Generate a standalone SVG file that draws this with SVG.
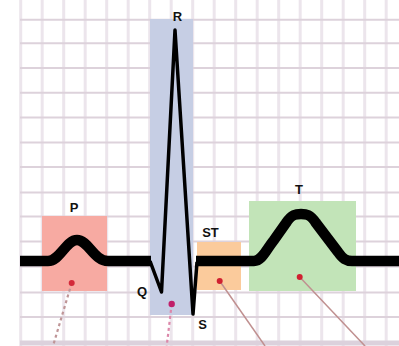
<svg xmlns="http://www.w3.org/2000/svg" width="399" height="346" viewBox="0 0 399 346">
  <style>
    .gv { stroke: #ece5ec; stroke-width: 3; }
    .gh { stroke: #ddd2db; stroke-width: 2; }
    .lbl { font-family: "Liberation Sans", Arial, sans-serif; font-weight: bold; font-size: 13px; fill: #111; text-anchor: middle; }
    .dot { stroke: none; }
    .trace { fill: none; stroke: #000; stroke-linejoin: round; stroke-linecap: butt; }
  </style>
  <rect x="0" y="0" width="399" height="346" fill="#ffffff"/>
  <g id="grid">
    <line class="gv" x1="20.7" y1="0" x2="20.7" y2="346"/>
    <line class="gv" x1="42.2" y1="0" x2="42.2" y2="346"/>
    <line class="gv" x1="63.7" y1="0" x2="63.7" y2="346"/>
    <line class="gv" x1="85.2" y1="0" x2="85.2" y2="346"/>
    <line class="gv" x1="106.7" y1="0" x2="106.7" y2="346"/>
    <line class="gv" x1="128.2" y1="0" x2="128.2" y2="346"/>
    <line class="gv" x1="149.7" y1="0" x2="149.7" y2="346"/>
    <line class="gv" x1="171.2" y1="0" x2="171.2" y2="346"/>
    <line class="gv" x1="192.7" y1="0" x2="192.7" y2="346"/>
    <line class="gv" x1="214.2" y1="0" x2="214.2" y2="346"/>
    <line class="gv" x1="235.7" y1="0" x2="235.7" y2="346"/>
    <line class="gv" x1="257.2" y1="0" x2="257.2" y2="346"/>
    <line class="gv" x1="278.7" y1="0" x2="278.7" y2="346"/>
    <line class="gv" x1="300.2" y1="0" x2="300.2" y2="346"/>
    <line class="gv" x1="321.7" y1="0" x2="321.7" y2="346"/>
    <line class="gv" x1="343.2" y1="0" x2="343.2" y2="346"/>
    <line class="gv" x1="364.7" y1="0" x2="364.7" y2="346"/>
    <line class="gv" x1="386.2" y1="0" x2="386.2" y2="346"/>
    <line class="gh" x1="20" y1="19.8" x2="399" y2="19.8"/>
    <line class="gh" x1="20" y1="43.3" x2="399" y2="43.3"/>
    <line class="gh" x1="20" y1="68" x2="399" y2="68"/>
    <line class="gh" x1="20" y1="92.8" x2="399" y2="92.8"/>
    <line class="gh" x1="20" y1="117.5" x2="399" y2="117.5"/>
    <line class="gh" x1="20" y1="142.5" x2="399" y2="142.5"/>
    <line class="gh" x1="20" y1="167" x2="399" y2="167"/>
    <line class="gh" x1="20" y1="192.5" x2="399" y2="192.5"/>
    <line class="gh" x1="20" y1="216.5" x2="399" y2="216.5"/>
    <line class="gh" x1="20" y1="241.5" x2="399" y2="241.5"/>
    <line class="gh" x1="20" y1="266.5" x2="399" y2="266.5"/>
    <line class="gh" x1="20" y1="292.5" x2="399" y2="292.5"/>
    <line class="gh" x1="20" y1="317" x2="399" y2="317"/>
    <line x1="20" y1="343" x2="399" y2="343" stroke="#dcd1dc" stroke-width="5"/>
  </g>
  <g id="node-P">
    <rect x="42" y="216" width="65" height="75" fill="#f7aaa2"/>
    <text class="lbl" x="74" y="212">P</text>
  </g>
  <g id="node-QRS">
    <rect x="150" y="19" width="43" height="296" fill="#c6cee4"/>
    <text class="lbl" x="177.5" y="20.5">R</text>
    <text class="lbl" x="142" y="296">Q</text>
    <text class="lbl" x="202.5" y="329">S</text>
  </g>
  <g id="node-ST">
    <rect x="197" y="242" width="44" height="48" fill="#fbcb9c"/>
    <text class="lbl" x="210.5" y="236.5">ST</text>
  </g>
  <g id="node-T">
    <rect x="249" y="201" width="107" height="90" fill="#c2e4b8"/>
    <text class="lbl" x="299" y="194">T</text>
  </g>
  <g id="trace">
    <path class="trace" stroke-width="10.5" d="M20 261 L48 261 C60 261 66 240 77 240 C88 240 94 261 108 261 L151 261"/>
    <path class="trace" stroke-width="3.5" stroke-linejoin="miter" stroke-miterlimit="20" d="M150 261 L161.5 292 L175 30 L193 314 L197 262"/>
    <path class="trace" stroke-width="10.5" d="M196 261 L254 261 C262 261 266 250 274 240 L286 223 C292 214 296 214 301 214 C306 214 310 214 316 223 L338 252 C343 259 346 261 352 261 L399 261"/>
  </g>
  <g id="connectors">
    <line x1="71.7" y1="283" x2="53" y2="346" stroke="#bf9597" stroke-width="2.2" stroke-dasharray="3 3"/>
    <line x1="171.7" y1="304" x2="166.7" y2="346" stroke="#dc88aa" stroke-width="2.2" stroke-dasharray="3 3"/>
    <line x1="219.7" y1="281" x2="265" y2="346" stroke="#c09090" stroke-width="1.5"/>
    <line x1="299.7" y1="277" x2="365" y2="346" stroke="#c09090" stroke-width="1.5"/>
    <circle class="dot" cx="71.7" cy="283" r="3" fill="#d42a3a"/>
    <circle class="dot" cx="171.7" cy="304" r="3.2" fill="#c0206a"/>
    <circle class="dot" cx="219.7" cy="281" r="3" fill="#d02030"/>
    <circle class="dot" cx="299.7" cy="277" r="3" fill="#d02030"/>
  </g>
</svg>
